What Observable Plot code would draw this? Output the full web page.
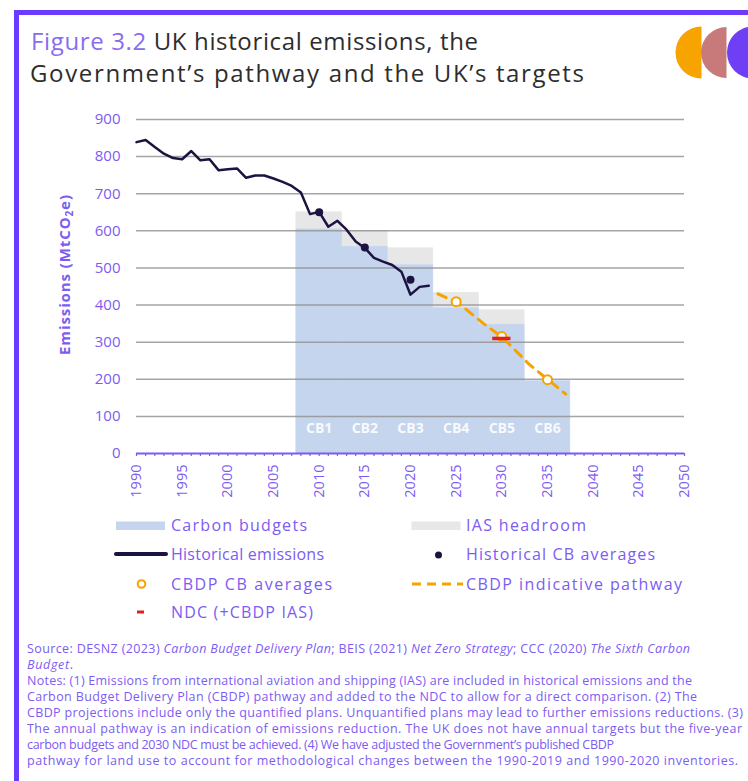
<!DOCTYPE html>
<html><head><meta charset="utf-8">
<script src="https://cdn.jsdelivr.net/npm/d3@7"></script>
<script src="https://cdn.jsdelivr.net/npm/@observablehq/plot@0.6"></script>
<style>
html,body{margin:0;padding:0;background:#fff;}
#page{position:relative;width:748px;height:781px;overflow:hidden;background:#fff;font-family:"Open Sans",sans-serif;}
#frame{position:absolute;left:14px;top:10px;width:800px;height:900px;border-top:5px solid #6b3cff;border-left:5px solid #6b3cff;}
#chart{position:absolute;left:0;top:100px;}
#overlay{position:absolute;left:0;top:0;}
</style></head><body>
<div id="page"><div id="frame"></div><div id="chart"></div><svg id="overlay" width="748" height="781"></svg></div>
<script>
// ---------- data ----------
const histYears = [1990,1991,1992,1993,1994,1995,1996,1997,1998,1999,2000,2001,2002,2003,2004,2005,2006,2007,2008,2009,2010,2011,2012,2013,2014,2015,2016,2017,2018,2019,2020,2021,2022];
const histValues = [839,845,826,808,796,793,815,790,793,763,766,768,743,749,749,741,732,721,703,645,651,611,627,603,571,554,527,517,508,490,428,449,452];

const cbLabels = ["CB1","CB2","CB3","CB4","CB5","CB6"];
const cbStart = [2008,2013,2018,2023,2028,2033];
const cbEnd = [2012,2017,2022,2027,2032,2037];
const cbBudget = [604,557,507,391,347,195];
const iasHeadroom = [46,43,46,42,39,0];

const histAvgYears = [2010,2015,2020];
const histAvgValues = [650,555,468];

const cbdpAvgYears = [2025,2030,2035];
const cbdpAvgValues = [409,315,199];

const pathYears = [2023,2024,2025,2026,2027,2028,2029,2030,2031,2032,2033,2034,2035,2036,2037];
const pathValues = [430,419,408,390,370,350,332,314,290,265,240,220,200,180,160];

const ndcYear = [2030];
const ndcValue = [310];

const yTicks = [0,100,200,300,400,500,600,700,800,900];
const xTicks = [1990,1995,2000,2005,2010,2015,2020,2025,2030,2035,2040,2045,2050];
const minorTicks = [1990,1991,1992,1993,1994,1995,1996,1997,1998,1999,2000,2001,2002,2003,2004,2005,2006,2007,2008,2009,2010,2011,2012,2013,2014,2015,2016,2017,2018,2019,2020,2021,2022,2023,2024,2025,2026,2027,2028,2029,2030,2031,2032,2033,2034,2035,2036,2037,2038,2039,2040,2041,2042,2043,2044,2045,2046,2047,2048,2049,2050];

// ---------- colours ----------
const PURPLE = "#7c5cf2";
const BLUE = "#c5d5ee";
const GREY = "#e7e7e7";
const DARK = "#1c1340";
const ORANGE = "#f5a300";
const RED = "#e3201b";

const hist = histYears.map((x,i)=>({x, y: histValues[i]}));
const cb = cbLabels.map((l,i)=>({label:l, start:cbStart[i], end:cbEnd[i], budget:cbBudget[i], top:cbBudget[i]+iasHeadroom[i]}));
const histAvg = histAvgYears.map((x,i)=>({x, y: histAvgValues[i]}));
const cbdpAvg = cbdpAvgYears.map((x,i)=>({x, y: cbdpAvgValues[i]}));
const path = pathYears.map((x,i)=>({x, y: pathValues[i]}));
const ndc = ndcYear.map((x,i)=>({x, y: ndcValue[i]}));

const chart = Plot.plot({
  width: 748, height: 420,
  marginLeft: 136, marginRight: 64, marginTop: 19, marginBottom: 67,
  style: {fontFamily: '"Open Sans", sans-serif', fontSize: "15px", color: PURPLE, background: "transparent", overflow: "visible"},
  x: {domain: [1990, 2050]},
  y: {domain: [0, 900]},
  marks: [
    Plot.rectY(cb.filter(d=>d.top>d.budget), {x1: d=>d.start-0.5, x2: d=>d.end+0.5, y1: "budget", y2: "top", fill: GREY, stroke: GREY, strokeWidth: 0.6}),
    Plot.rectY(cb, {x1: d=>d.start-0.5, x2: d=>d.end+0.5, y1: 0, y2: "budget", fill: BLUE, stroke: BLUE, strokeWidth: 0.6}),
    Plot.gridY({ticks: yTicks.filter(d=>d>0), stroke: "#8f8f8f", strokeOpacity: 0.8, strokeWidth: 1.5}),
    Plot.axisY({ticks: yTicks, tickSize: 0, tickPadding: 16, label: null, fill: PURPLE, fontSize: 15}),
    Plot.axisX({ticks: minorTicks, tickSize: 3, tickFormat: () => "", label: null, stroke: PURPLE, strokeWidth: 1.2}),
    Plot.axisX({ticks: xTicks, tickSize: 0, tickPadding: 11, tickRotate: -90, tickFormat: d=>String(d), label: null, fill: PURPLE, fontSize: 14.5}),
    Plot.ruleY([0], {stroke: PURPLE, strokeWidth: 2}),
    Plot.text(cb, {x: d=>(d.start+d.end)/2, frameAnchor: "bottom", dy: -21, text: "label", fill: "white", fillOpacity: 0.9, fontWeight: "bold", fontSize: 14}),
    Plot.line(hist, {x: "x", y: "y", stroke: DARK, strokeWidth: 2.5}),
    Plot.dot(histAvg, {x: "x", y: "y", r: 4, fill: DARK}),
    Plot.line(path, {x: "x", y: "y", stroke: ORANGE, strokeWidth: 3, strokeDasharray: "9,7"}),
    Plot.dot(cbdpAvg, {x: "x", y: "y", r: 4.5, stroke: ORANGE, strokeWidth: 2, fill: "white"}),
    Plot.ruleY(ndc, {y: "y", x1: d=>d.x-1, x2: d=>d.x+1, stroke: RED, strokeWidth: 3.5})
  ]
});
document.getElementById("chart").appendChild(chart);

// ---------- overlay text: title, y label, legend, notes ----------
const svg = d3.select("#overlay");
const FONT = '"Open Sans", sans-serif';

function addText(x, y, parts, o) {
  const t = svg.append("text").attr("x", x).attr("y", y)
    .attr("font-family", FONT).attr("font-size", o.size).attr("fill", o.fill || PURPLE);
  if (o.weight) t.attr("font-weight", o.weight);
  if (o.length) t.attr("textLength", o.length).attr("lengthAdjust", "spacing");
  if (o.anchor) t.attr("text-anchor", o.anchor);
  for (const p of parts) {
    const s = t.append("tspan").text(p.t);
    if (p.i) s.attr("font-style", "italic");
    if (p.fill) s.attr("fill", p.fill);
  }
  return t;
}

// logo
const logo = svg.append("g");
const half = (cx, cy, r) => `M${cx},${cy-r} A${r},${r} 0 0 0 ${cx},${cy+r} Z`;
logo.append("path").attr("d", half(701.5, 52.5, 26)).attr("fill", "#f8a400");
logo.append("path").attr("d", half(726.5, 52.5, 25.5)).attr("fill", "#c87a7b");
logo.append("circle").attr("cx", 753).attr("cy", 52.5).attr("r", 26).attr("fill", "#6f3ff6");

// title
addText(31, 50, [{t: "Figure 3.2", fill: "#8a6cf0"}, {t: " UK historical emissions, the", fill: "#2d2d2d"}], {size: 24, length: 447});
addText(30, 82, [{t: "Government\u2019s pathway and the UK\u2019s targets", fill: "#2d2d2d"}], {size: 24, length: 554});

// y label
const yl = svg.append("text").attr("transform", "translate(70,275) rotate(-90)")
  .attr("text-anchor", "middle").attr("font-family", FONT).attr("font-size", 15)
  .attr("font-weight", "bold").attr("fill", PURPLE).attr("textLength", 160).attr("lengthAdjust", "spacing");
yl.append("tspan").text("Emissions (MtCO");
yl.append("tspan").text("2").attr("font-size", 10).attr("dy", 3);
yl.append("tspan").text("e)").attr("dy", -3);

// legend
const lg = svg.append("g");
lg.append("rect").attr("x", 116).attr("y", 521.5).attr("width", 49).attr("height", 8.5).attr("fill", BLUE);
lg.append("rect").attr("x", 411.5).attr("y", 521.5).attr("width", 49).attr("height", 8.5).attr("fill", GREY);
lg.append("line").attr("x1", 116).attr("x2", 166).attr("y1", 554).attr("y2", 554).attr("stroke", DARK).attr("stroke-width", 4).attr("stroke-linecap", "round");
lg.append("circle").attr("cx", 438.5).attr("cy", 555).attr("r", 3.5).attr("fill", DARK);
lg.append("circle").attr("cx", 141.5).attr("cy", 584).attr("r", 3.8).attr("fill", "white").attr("stroke", ORANGE).attr("stroke-width", 2);
lg.append("line").attr("x1", 412).attr("x2", 463).attr("y1", 584).attr("y2", 584).attr("stroke", ORANGE).attr("stroke-width", 3).attr("stroke-dasharray", "9,6");
lg.append("line").attr("x1", 137).attr("x2", 144).attr("y1", 612).attr("y2", 612).attr("stroke", RED).attr("stroke-width", 3);
const legItems = [
  [171, 531, "Carbon budgets", 136],
  [171, 560, "Historical emissions", 153],
  [171, 590, "CBDP CB averages", 161],
  [171, 618, "NDC (+CBDP IAS)", 142],
  [466, 531, "IAS headroom", 120],
  [466, 560, "Historical CB averages", 189],
  [466, 590, "CBDP indicative pathway", 216]
];
for (const [x, y, t, len] of legItems) addText(x, y, [{t}], {size: 16, length: len});

// notes
const notes = [
  [[{t:"Source: DESNZ (2023) "},{t:"Carbon Budget Delivery Plan",i:1},{t:"; BEIS (2021) "},{t:"Net Zero Strategy",i:1},{t:"; CCC (2020) "},{t:"The Sixth Carbon",i:1}], 663],
  [[{t:"Budget",i:1},{t:"."}], 46],
  [[{t:"Notes: (1) Emissions from international aviation and shipping (IAS) are included in historical emissions and the"}], 665],
  [[{t:"Carbon Budget Delivery Plan (CBDP) pathway and added to the NDC to allow for a direct comparison. (2) The"}], 670],
  [[{t:"CBDP projections include only the quantified plans. Unquantified plans may lead to further emissions reductions. (3)"}], 716],
  [[{t:"The annual pathway is an indication of emissions reduction. The UK does not have annual targets but the five-year"}], 715],
  [[{t:"carbon budgets and 2030 NDC must be achieved. (4) We have adjusted the Government\u2019s published CBDP"}], 587],
  [[{t:"pathway for land use to account for methodological changes between the 1990-2019 and 1990-2020 inventories."}], 711]
];
notes.forEach(([parts, len], i) => addText(27, 653 + i * 16, parts, {size: 12.5, length: len}));
</script>
</body></html>
